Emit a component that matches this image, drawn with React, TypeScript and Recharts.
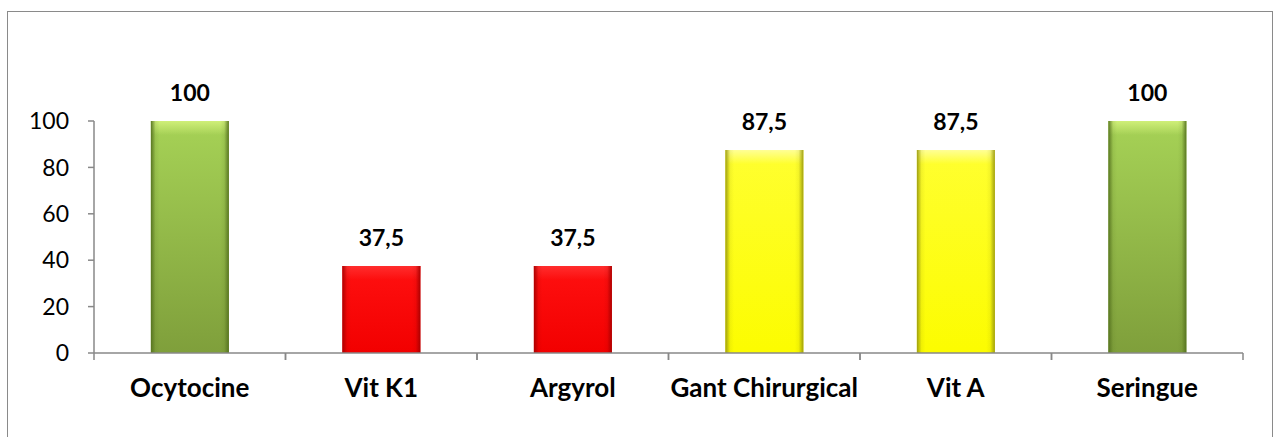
import { Bar, BarChart, Cell, LabelList, XAxis, YAxis } from "recharts"

const CATEGORIES = ["Ocytocine", "Vit K1", "Argyrol", "Gant Chirurgical", "Vit A", "Seringue"]
const VALUES = [100, 37.5, 37.5, 87.5, 87.5, 100]
const LEVELS = ["green", "red", "red", "yellow", "yellow", "green"]
const Y_TICKS = [0, 20, 40, 60, 80, 100]

const PALETTE: Record<string, { top: string; bottom: string; edge: string; shine: string }> = {
  green: { top: "#a6d256", bottom: "#7f9f3b", edge: "#55721f", shine: "#d4f27c" },
  red: { top: "#ff1010", bottom: "#f20000", edge: "#a80000", shine: "#ff3030" },
  yellow: { top: "#ffff30", bottom: "#fcfc00", edge: "#9a9a10", shine: "#ffffa0" },
}

const data = CATEGORIES.map((name, i) => ({ name, value: VALUES[i], level: LEVELS[i] }))

const FONT = "Lato, 'Open Sans', sans-serif"
const AXIS = "#888888"

function GlossyBar(props: any) {
  const { x, y, width, height, index, payload } = props
  if (!height || height <= 0) return null
  const p = PALETTE[payload.level]
  const id = `bar-${index}`
  return (
    <g>
      <defs>
        <linearGradient id={`${id}-v`} x1="0" y1="0" x2="0" y2="1">
          <stop offset="0%" stopColor={p.top} />
          <stop offset="100%" stopColor={p.bottom} />
        </linearGradient>
        <linearGradient id={`${id}-h`} x1="0" y1="0" x2="1" y2="0">
          <stop offset="0%" stopColor={p.edge} stopOpacity={0.95} />
          <stop offset="6%" stopColor={p.edge} stopOpacity={0.12} />
          <stop offset="11%" stopColor={p.edge} stopOpacity={0} />
          <stop offset="89%" stopColor={p.edge} stopOpacity={0} />
          <stop offset="94%" stopColor={p.edge} stopOpacity={0.12} />
          <stop offset="100%" stopColor={p.edge} stopOpacity={0.95} />
        </linearGradient>
        <linearGradient id={`${id}-s`} x1="0" y1="0" x2="0" y2="1">
          <stop offset="0%" stopColor={p.shine} stopOpacity={0.9} />
          <stop offset="100%" stopColor={p.shine} stopOpacity={0} />
        </linearGradient>
      </defs>
      <rect x={x} y={y} width={width} height={height} fill={`url(#${id}-v)`} />
      <rect x={x} y={y} width={width} height={Math.min(14, height)} fill={`url(#${id}-s)`} />
      <rect x={x} y={y} width={width} height={height} fill={`url(#${id}-h)`} />
    </g>
  )
}

function CategoryTick(props: any) {
  const { x, y, payload } = props
  const half = payload?.offset ?? 0
  return (
    <g>
      <line x1={x - half} y1={y} x2={x - half} y2={y + 7} stroke={AXIS} strokeWidth={1.5} />
      <line x1={x + half} y1={y} x2={x + half} y2={y + 7} stroke={AXIS} strokeWidth={1.5} />
      <text x={x} y={y + 44} textAnchor="middle" fontFamily={FONT} fontWeight="bold" fontSize={26} fill="#000">
        {payload.value}
      </text>
    </g>
  )
}

export default function App() {
  return (
    <div
      style={{
        position: "fixed",
        left: 0,
        top: 0,
        width: 1274,
        height: 437,
        background: "#fff",
        overflow: "hidden",
      }}
    >
      <div
        style={{
          position: "absolute",
          left: 7,
          top: 11,
          width: 1264,
          height: 440,
          borderTop: "1.5px solid #8a8a8a",
          borderLeft: "1.5px solid #8a8a8a",
          borderRight: "1.5px solid #8a8a8a",
        }}
      />
      <div style={{ position: "absolute", left: 0, top: 0 }}>
        <BarChart
          width={1274}
          height={437}
          data={data}
          margin={{ top: 121, right: 31, bottom: 0, left: 0 }}
          barCategoryGap="29.7%"
        >
          <XAxis
            dataKey="name"
            height={84}
            axisLine={{ stroke: AXIS, strokeWidth: 1.5 }}
            tickLine={false}
            tickSize={0}
            tickMargin={0}
            interval={0}
            tick={<CategoryTick />}
          />
          <YAxis
            width={94}
            domain={[0, 100]}
            ticks={Y_TICKS}
            interval={0}
            axisLine={{ stroke: AXIS, strokeWidth: 1.5 }}
            tickLine={{ stroke: AXIS, strokeWidth: 1.5 }}
            tickSize={6}
            tickMargin={19}
            tick={{ fill: "#000", fontSize: 23, fontFamily: FONT }}
          />
          <Bar dataKey="value" isAnimationActive={false} shape={<GlossyBar />}>
            {data.map((d) => (
              <Cell key={d.name} fill={PALETTE[d.level].top} />
            ))}
            <LabelList
              dataKey="value"
              position="top"
              offset={20}
              formatter={(v: any) => String(v).replace(".", ",")}
              fill="#000"
              fontSize={23}
              fontWeight="bold"
              fontFamily={FONT}
            />
          </Bar>
        </BarChart>
      </div>
    </div>
  )
}
